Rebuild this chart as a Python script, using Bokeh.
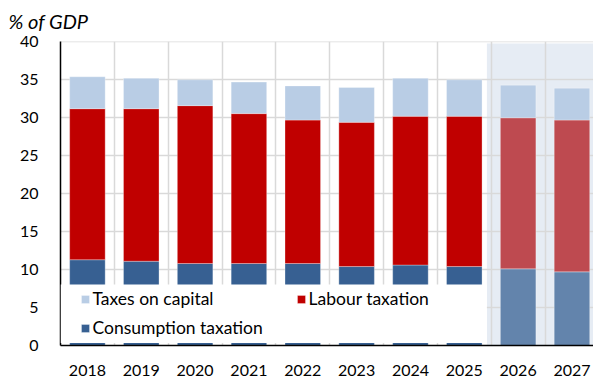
from bokeh.plotting import figure
from bokeh.models import (ColumnDataSource, FixedTicker, BoxAnnotation, Legend, LegendItem,
                          Range1d, Title)
from bokeh.embed import file_html
from bokeh.resources import INLINE

years = ["2018", "2019", "2020", "2021", "2022", "2023", "2024", "2025", "2026", "2027"]
consumption = [11.3, 11.1, 10.8, 10.8, 10.8, 10.4, 10.6, 10.4, 10.1, 9.7]
labour = [19.9, 20.1, 20.8, 19.75, 18.9, 19.0, 19.6, 19.8, 19.9, 20.0]
capital = [4.2, 4.0, 3.4, 4.15, 4.5, 4.6, 5.0, 4.8, 4.3, 4.2]
forecast = [False, False, False, False, False, False, False, False, True, True]
y_ticks = [0, 5, 10, 15, 20, 25, 30, 35, 40]

FONT = "Lato"
x = list(range(len(years)))
c_top = consumption
l_top = [c + l for c, l in zip(consumption, labour)]
k_top = [a + k for a, k in zip(l_top, capital)]

src = ColumnDataSource(dict(
    x=x, c0=[0] * len(x), c1=c_top, l1=l_top, k1=k_top,
    ccol=["#6384AC" if f else "#376092" for f in forecast],
    lcol=["#BE4A50" if f else "#C00000" for f in forecast],
    kcol=["#B9CDE5" for f in forecast],
))

p = figure(width=593, height=381, output_backend="svg", toolbar_location=None,
           x_range=Range1d(-0.5, 9.4), y_range=Range1d(0, 40.05),
           min_border_left=60, min_border_right=0, min_border_top=41, min_border_bottom=36)
p.outline_line_color = None

p.title.text = "% of GDP"
p.title.text_font = FONT
p.title.text_font_size = "20px"
p.title.text_font_style = "italic"
p.title.text_color = "black"
p.title.align = "left"
p.title.offset = -52
p.title.standoff = 2

# spacer title to lift the heading away from the plot frame
p.add_layout(Title(text=" ", text_font_size="6px", standoff=0), "above")

# forecast shading
shade = BoxAnnotation(left=7.42, right=9.6, bottom=0, top=39.8, fill_color="#E6ECF4",
                      fill_alpha=1, line_alpha=0, level="image")
p.add_layout(shade)

W = 0.66
rc = p.vbar(x="x", bottom="c0", top="c1", width=W, fill_color="ccol", line_color="white",
            line_alpha=0.3, source=src)
rl = p.vbar(x="x", bottom="c1", top="l1", width=W, fill_color="lcol", line_color="white",
            line_alpha=0.3, source=src)
rk = p.vbar(x="x", bottom="l1", top="k1", width=W, fill_color="kcol", line_color="white",
            line_alpha=0.3, source=src)

# axes
p.xaxis.ticker = FixedTicker(ticks=x)
p.xaxis.major_label_overrides = {i: y for i, y in enumerate(years)}
p.yaxis.ticker = FixedTicker(ticks=y_ticks)
for ax in (p.xaxis[0], p.yaxis[0]):
    ax.major_tick_line_color = None
    ax.minor_tick_line_color = None
    ax.axis_line_color = "black"
    ax.axis_line_width = 1.5
    ax.major_label_text_font = FONT
    ax.major_label_text_font_size = "16px"
    ax.major_label_text_color = "black"
p.xaxis.major_label_standoff = 13
p.yaxis.major_label_standoff = 16

p.xgrid.ticker = FixedTicker(ticks=[i + 0.5 for i in range(len(years) - 1)])
p.ygrid.ticker = FixedTicker(ticks=y_ticks)
for g in (p.xgrid[0], p.ygrid[0]):
    g.grid_line_color = "#D9D9D9"
    g.grid_line_width = 1.5

# white legend panel
panel = BoxAnnotation(left=-0.5, right=7.42, bottom=0.34, top=8.05, fill_color="white",
                      fill_alpha=1, line_alpha=0)
p.add_layout(panel)

legend = Legend(items=[
    LegendItem(label="Taxes on capital", renderers=[rk], index=0),
    LegendItem(label="Consumption taxation", renderers=[rc], index=0),
    LegendItem(label="Labour taxation", renderers=[rl], index=0),
], location=(19.5, 7), orientation="vertical", ncols=2)
legend.background_fill_alpha = 0
legend.border_line_alpha = 0
legend.padding = 0
legend.margin = 0
legend.spacing = 8
legend.glyph_width = 10
legend.glyph_height = 10
legend.label_height = 20
legend.label_width = 195
legend.label_standoff = 3
legend.label_text_font = FONT
legend.label_text_font_size = "17.5px"
legend.label_text_color = "black"
p.add_layout(legend, "center")

open("out.html", "w").write(file_html(p, INLINE))
